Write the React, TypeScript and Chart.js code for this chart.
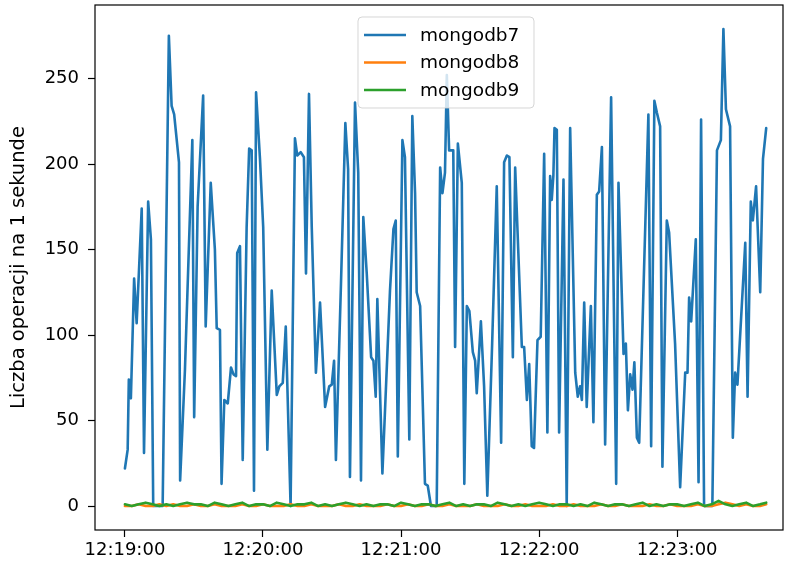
import React, { useEffect, useRef } from "react";
import { Chart, registerables } from "chart.js";

Chart.register(...registerables);

// seconds after 12:19:00
const times7 = [
  0, 1.2, 1.7, 2.6, 4.0, 5.1, 7.3, 8.3, 10.1, 11.3, 12.3, 16.4, 19.1, 20.3, 21.4, 23.5, 24.0, 26.1, 29.3, 30.1,
  31.6, 34.0, 35.1, 37.3, 39.1, 39.9, 41.3, 42.0, 43.2, 44.7, 46.1, 47.2, 48.3, 48.8, 50.0, 51.2, 52.9, 54.0, 55.1, 56.1,
  57.0, 58.7, 60.1, 61.9, 63.8, 66.0, 67.1, 68.6, 69.9, 72.0, 73.9, 74.9, 76.4, 77.8, 78.7, 80.0, 81.2, 83.0, 84.8, 87.0,
  88.8, 89.9, 90.9, 91.7, 93.9, 95.8, 97.0, 97.8, 100.0, 101.4, 102.6, 103.6, 105.1, 107.0, 108.0, 109.0, 109.7, 111.9, 115.2, 116.7,
  117.7, 118.6, 120.6, 121.7, 123.6, 124.9, 126.1, 126.8, 128.3, 130.4, 131.6, 133.0, 135.5, 137.0, 138.0, 139.1, 139.9, 140.9, 142.7, 143.5,
  144.7, 146.4, 147.5, 148.6, 149.7, 151.2, 152.2, 152.9, 154.7, 156.1, 157.5, 159.6, 161.6, 163.5, 164.8, 166.0, 167.1, 168.6, 169.6, 172.5,
  173.5, 174.7, 175.7, 176.8, 177.8, 179.3, 180.7, 182.2, 183.6, 184.8, 185.5, 186.2, 186.7, 187.7, 188.7, 190.6, 192.0, 193.5, 195.7, 196.8,
  197.8, 198.6, 199.6, 200.7, 202.5, 203.6, 205.1, 206.1, 207.3, 208.7, 211.3, 213.5, 214.5, 216.7, 217.7, 218.6, 219.6, 220.6, 221.4, 222.5,
  223.5, 227.5, 228.7, 230.1, 231.2, 232.6, 233.6, 235.5, 236.5, 239.1, 241.3, 243.5, 244.5, 245.2, 246.1, 248.1, 249.3, 250.4, 251.7, 255.3,
  257.3, 259.0, 260.1, 261.2, 263.0, 264.2, 265.2, 266.2, 269.6, 270.6, 272.0, 272.9, 274.3, 276.1, 277.3, 278.7,
];
const mongodb7 = [
  22, 33, 74, 63, 133, 107, 174, 31, 178, 156, 0, 0, 275, 234, 229, 201, 15, 80, 214, 52,
  175, 240, 105, 189, 150, 104, 103, 13, 62, 60, 81, 77, 76, 148, 152, 27, 163, 209, 208, 9,
  242, 203, 163, 33, 126, 65, 70, 72, 105, 0, 215, 205, 207, 204, 136, 241, 163, 78, 119, 58,
  70, 71, 85, 27, 130, 224, 197, 17, 236, 195, 15, 169, 136, 87, 85, 64, 121, 19, 126, 162,
  167, 29, 214, 204, 39, 228, 183, 125, 117, 13, 12, 0, 0, 198, 183, 195, 252, 208, 208, 93,
  212, 189, 13, 117, 114, 90, 85, 66, 108, 70, 6, 95, 187, 37, 201, 205, 204, 87, 198, 93,
  93, 62, 83, 35, 34, 97, 99, 206, 43, 193, 179, 193, 221, 220, 43, 191, 0, 221, 78, 64,
  70, 62, 119, 58, 117, 49, 182, 184, 210, 36, 239, 13, 189, 89, 95, 56, 77, 68, 84, 40,
  37, 229, 35, 237, 230, 222, 23, 167, 160, 95, 11, 78, 78, 122, 108, 156, 14, 226, 0, 0,
  208, 214, 279, 232, 222, 40, 78, 71, 154, 64, 178, 167, 187, 125, 203, 221,
];

const timesLow = [
  0, 3, 6, 9, 12, 15, 18, 21, 24, 27, 30, 33, 36, 39, 42, 45, 48, 51, 54, 57,
  60, 63, 66, 69, 72, 75, 78, 81, 84, 87, 90, 93, 96, 99, 102, 105, 108, 111, 114, 117,
  120, 123, 126, 129, 132, 135, 138, 141, 144, 147, 150, 153, 156, 159, 162, 165, 168, 171, 174, 177,
  180, 183, 186, 189, 192, 195, 198, 201, 204, 207, 210, 213, 216, 219, 222, 225, 228, 231, 234, 237,
  240, 243, 246, 249, 252, 255, 258, 261, 264, 267, 270, 273, 276, 278.7,
];
const mongodb8 = [
  0, 0, 1, 0, 0, 1, 0, 1, 0, 0, 1, 0, 0, 1, 0, 0, 0, 1, 0, 0,
  1, 0, 0, 0, 1, 0, 0, 1, 0, 0, 0, 1, 0, 0, 1, 0, 0, 0, 1, 0,
  0, 1, 0, 0, 1, 0, 0, 1, 0, 0, 0, 1, 0, 0, 0, 1, 0, 0, 1, 0,
  0, 0, 1, 0, 0, 1, 0, 0, 0, 1, 0, 0, 1, 0, 0, 0, 1, 0, 0, 1,
  0, 0, 0, 1, 0, 0, 1, 2, 1, 0, 1, 0, 0, 1,
];
const mongodb9 = [
  1, 0, 1, 2, 1, 0, 1, 0, 1, 2, 1, 1, 0, 2, 1, 0, 1, 2, 0, 1,
  1, 0, 2, 1, 0, 1, 1, 2, 0, 1, 0, 1, 2, 1, 0, 1, 0, 1, 1, 0,
  2, 1, 0, 1, 1, 0, 1, 2, 0, 1, 0, 1, 1, 0, 2, 1, 0, 1, 0, 1,
  2, 1, 0, 1, 1, 0, 1, 0, 2, 1, 0, 1, 1, 0, 1, 2, 0, 1, 0, 1,
  1, 0, 1, 2, 0, 1, 3, 1, 0, 1, 2, 0, 1, 2,
];

const xTickValues = [0, 60, 120, 180, 240];
const xTickLabels = ["12:19:00", "12:20:00", "12:21:00", "12:22:00", "12:23:00"];
const yTickValues = [0, 50, 100, 150, 200, 250];
const seriesNames = ["mongodb7", "mongodb8", "mongodb9"];
const seriesColors = ["#1f77b4", "#ff7f0e", "#2ca02c"];
const yTitle = "Liczba operacji na 1 sekunde";

const FONT = "'DejaVu Sans', sans-serif";

const framePlugin = {
  id: "frame",
  afterDatasetsDraw(chart: any) {
    const { ctx, chartArea: a } = chart;
    ctx.save();
    ctx.strokeStyle = "#000";
    ctx.lineWidth = 1.2;
    ctx.strokeRect(a.left, a.top, a.right - a.left, a.bottom - a.top);
    ctx.restore();
  },
};

const legendPlugin = {
  id: "mplLegend",
  afterDraw(chart: any) {
    const { ctx } = chart;
    const x = 358, y = 17, w = 176, h = 91, r = 4;
    ctx.save();
    ctx.beginPath();
    ctx.moveTo(x + r, y);
    ctx.lineTo(x + w - r, y);
    ctx.quadraticCurveTo(x + w, y, x + w, y + r);
    ctx.lineTo(x + w, y + h - r);
    ctx.quadraticCurveTo(x + w, y + h, x + w - r, y + h);
    ctx.lineTo(x + r, y + h);
    ctx.quadraticCurveTo(x, y + h, x, y + h - r);
    ctx.lineTo(x, y + r);
    ctx.quadraticCurveTo(x, y, x + r, y);
    ctx.closePath();
    ctx.fillStyle = "rgba(255,255,255,0.8)";
    ctx.fill();
    ctx.strokeStyle = "rgba(204,204,204,0.8)";
    ctx.lineWidth = 1;
    ctx.stroke();
    ctx.font = `18.5px ${FONT}`;
    ctx.textBaseline = "middle";
    ctx.textAlign = "left";
    seriesNames.forEach((name, i) => {
      const cy = 35 + i * 27.5;
      ctx.strokeStyle = seriesColors[i];
      ctx.lineWidth = 2.6;
      ctx.beginPath();
      ctx.moveTo(364, cy);
      ctx.lineTo(406, cy);
      ctx.stroke();
      ctx.fillStyle = "#000";
      ctx.fillText(name, 420, cy + 1);
    });
    ctx.restore();
  },
};

export default function App() {
  const ref = useRef<HTMLCanvasElement>(null);
  useEffect(() => {
    if (!ref.current) return;
    const mk = (t: number[], v: number[]) => t.map((x, i) => ({ x, y: v[i] }));
    const lineStyle = { borderWidth: 2.6, pointRadius: 0, tension: 0, borderJoinStyle: "round" as const, borderCapStyle: "round" as const };
    const chart = new Chart(ref.current, {
      type: "line",
      data: {
        datasets: [
          { label: seriesNames[0], data: mk(times7, mongodb7), borderColor: seriesColors[0], order: 3, ...lineStyle },
          { label: seriesNames[1], data: mk(timesLow, mongodb8), borderColor: seriesColors[1], order: 2, ...lineStyle },
          { label: seriesNames[2], data: mk(timesLow, mongodb9), borderColor: seriesColors[2], order: 1, ...lineStyle },
        ],
      },
      options: {
        animation: false,
        responsive: true,
        maintainAspectRatio: false,
        layout: { padding: { left: 0, top: 5, right: 6, bottom: 0 } },
        plugins: { legend: { display: false }, tooltip: { enabled: false } },
        scales: {
          x: {
            type: "linear",
            min: -13,
            max: 286,
            afterBuildTicks: (s: any) => { s.ticks = xTickValues.map((v) => ({ value: v })); },
            afterFit: (s: any) => { s.height = 38; s.paddingLeft = 0; s.paddingRight = 0; },
            ticks: {
              callback: (v: any) => xTickLabels[xTickValues.indexOf(Number(v))] ?? "",
              font: { family: FONT, size: 18 },
              color: "#000",
              padding: 3,
              maxRotation: 0,
              autoSkip: false,
            },
            grid: { drawOnChartArea: false, drawTicks: true, tickLength: 7, tickColor: "#000", tickWidth: 1.2 },
            border: { display: false },
          },
          y: {
            type: "linear",
            min: -14,
            max: 293,
            afterBuildTicks: (s: any) => { s.ticks = yTickValues.map((v) => ({ value: v })); },
            afterFit: (s: any) => { s.width = 95; s.paddingTop = 0; s.paddingBottom = 0; },
            ticks: {
              font: { family: FONT, size: 18 },
              color: "#000",
              padding: 9,
              autoSkip: false,
            },
            title: {
              display: true,
              text: yTitle,
              font: { family: FONT, size: 19.5 },
              color: "#000",
              padding: { top: 7, bottom: 0 },
            },
            grid: { drawOnChartArea: false, drawTicks: true, tickLength: 7, tickColor: "#000", tickWidth: 1.2 },
            border: { display: false },
          },
        },
      },
      plugins: [framePlugin, legendPlugin],
    });
    return () => chart.destroy();
  }, []);
  return (
    <div style={{ position: "fixed", left: 0, top: 0, width: 789, height: 568, background: "#fff" }}>
      <canvas ref={ref} />
    </div>
  );
}
